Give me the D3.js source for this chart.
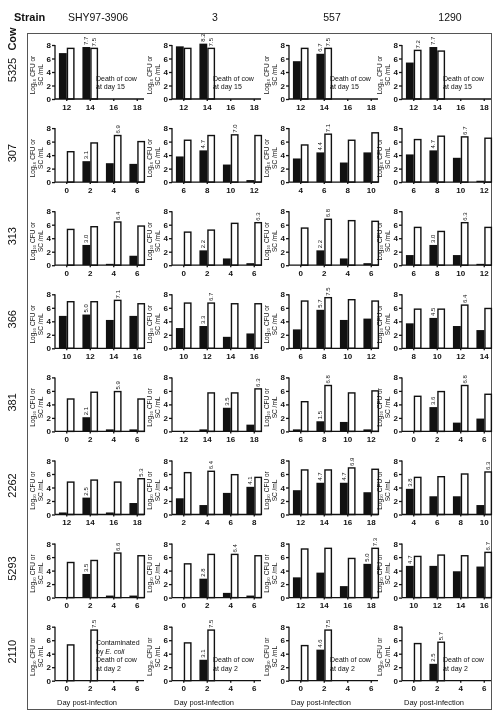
<!DOCTYPE html>
<html>
<head>
<meta charset="utf-8">
<script src="https://cdn.jsdelivr.net/npm/d3@7"></script>
<style>
  body { margin: 0; background: #fff; }
  svg { will-change: transform; }
  text { font-family: "Liberation Sans", Arial, sans-serif; fill: #111; }
  .tick text { font-weight: bold; font-size: 8px; }
  .tick line, .axis-line { stroke: #111; stroke-width: 1.3; }
</style>
</head>
<body>
<script>
// cows (rows) and strains (columns)
const cows = ['5325', '307', '313', '366', '381', '2262', '5293', '2110'];
const strains = ['SHY97-3906', '3', '557', '1290'];

// sampling days per panel [row][col]
const days = [
  [[12, 14, 16, 18], [12, 14, 16, 18], [12, 14, 16, 18], [12, 14, 16, 18]],
  [[0, 2, 4, 6], [6, 8, 10, 12], [4, 6, 8, 10], [6, 8, 10, 12]],
  [[0, 2, 4, 6], [0, 2, 4, 6], [0, 2, 4, 6], [6, 8, 10, 12]],
  [[10, 12, 14, 16], [10, 12, 14, 16], [6, 8, 10, 12], [8, 10, 12, 14]],
  [[0, 2, 4, 6], [12, 14, 16, 18], [6, 8, 10, 12], [0, 2, 4, 6]],
  [[12, 14, 16, 18], [2, 4, 6, 8], [12, 14, 16, 18], [4, 6, 8, 10]],
  [[0, 2, 4, 6], [0, 2, 4, 6], [12, 14, 16, 18], [10, 12, 14, 16]],
  [[0, 2, 4, 6], [0, 2, 4, 6], [0, 2, 4, 6], [0, 2, 4, 6]]
];

// log10 CFU/mL (black bars)
const cfu = [
  [[6.8, 7.7, null, null], [7.8, 8.2, null, null], [5.6, 6.7, null, null], [5.4, 7.7, null, null]],
  [[0, 3.1, 2.8, 2.7], [3.8, 4.7, 2.6, 0.3], [3.5, 4.4, 2.9, 4.4], [4.1, 4.7, 3.6, 0.2]],
  [[0, 3.0, 0.2, 1.4], [0, 2.2, 1.0, 0.3], [0, 2.2, 1.0, 0.3], [1.5, 3.0, 1.5, 0.2]],
  [[4.8, 5.0, 4.2, 4.8], [3.0, 3.3, 1.7, 2.2], [2.8, 5.7, 4.2, 4.4], [3.7, 4.5, 3.3, 2.7]],
  [[0, 2.1, 0.3, 0.3], [0, 0.3, 3.5, 1.0], [0.3, 1.5, 1.4, 0.3], [0, 3.6, 1.3, 1.9]],
  [[0.3, 2.5, 0.3, 1.7], [2.4, 1.4, 3.2, 4.1], [3.6, 4.7, 4.7, 3.3], [3.8, 2.7, 2.7, 1.4]],
  [[0, 3.5, 0.3, 0.3], [0, 2.8, 0.7, 0.3], [3.0, 3.7, 1.7, 5.0], [4.7, 4.7, 3.9, 4.6]],
  [[0, 0, null, null], [0, 3.1, null, null], [0, 4.6, null, null], [0, 2.5, null, null]]
];

// log10 SC/mL (white bars)
const scc = [
  [[7.5, 7.5, null, null], [7.5, 7.5, null, null], [7.5, 7.5, null, null], [7.2, 7.1, null, null]],
  [[4.5, 5.8, 6.9, 6.0], [6.2, 6.9, 7.0, 6.9], [5.5, 7.1, 6.2, 7.3], [6.3, 6.8, 6.7, 6.5]],
  [[5.3, 5.7, 6.4, 5.8], [4.9, 5.2, 6.2, 6.3], [5.5, 6.8, 6.6, 6.5], [5.6, 5.0, 6.3, 5.6]],
  [[6.9, 6.9, 7.1, 6.6], [6.7, 6.7, 6.6, 6.6], [7.0, 7.5, 7.2, 7.0], [5.8, 5.8, 6.4, 5.9]],
  [[4.8, 5.8, 5.9, 4.8], [0, 5.7, 5.7, 6.3], [4.4, 6.8, 5.7, 6.0], [5.2, 5.9, 6.8, 5.5]],
  [[4.8, 5.1, 4.8, 5.3], [6.2, 6.4, 5.9, 5.5], [6.6, 6.6, 6.9, 6.7], [5.5, 5.6, 6.0, 6.3]],
  [[5.2, 5.5, 6.6, 6.2], [5.0, 6.4, 6.4, 6.2], [7.2, 7.3, 5.8, 7.3], [6.1, 6.3, 6.2, 6.7]],
  [[5.3, 7.5, null, null], [5.6, 7.5, null, null], [5.2, 7.5, null, null], [5.5, 5.7, null, null]]
];

// which bars carry a value label (index into the day list)
const cfuLabels = [
  [[1], [1], [1], [1]],
  [[1], [1], [1], [1]],
  [[1], [1], [1], [1]],
  [[1], [1], [1], [1]],
  [[1], [2], [1], [1]],
  [[1], [3], [1, 2], [0]],
  [[1], [1], [3], [0]],
  [[], [1], [1], [1]]
];
const sccLabels = [
  [[1], [1], [1], [0]],
  [[2], [2], [1], [2]],
  [[2], [3], [1], [2]],
  [[2], [1], [1], [2]],
  [[2], [3], [1], [2]],
  [[3], [1], [2], [3]],
  [[2], [2], [3], [3]],
  [[1], [1], [1], [1]]
];

const yTicks = [0, 2, 4, 6, 8];

const notes = [
  { row: 0, col: 0, lines: ['Death of cow', 'at day 15'] },
  { row: 0, col: 1, lines: ['Death of cow', 'at day 15'] },
  { row: 0, col: 2, lines: ['Death of cow', 'at day 15'] },
  { row: 0, col: 3, lines: ['Death of cow', 'at day 15'] },
  { row: 7, col: 0, lines: ['Contaminated', 'by E. coli', 'Death of cow', 'at day 2'] },
  { row: 7, col: 1, lines: ['Death of cow', 'at day 2'] },
  { row: 7, col: 2, lines: ['Death of cow', 'at day 2'] },
  { row: 7, col: 3, lines: ['Death of cow', 'at day 2'] }
];

const W = 497, H = 717;
const plotH = 54, plotW = 94;
const rowBase = i => 99 + i * 83.1;
const colLeft = [55, 172, 289, 402];
const colX = j => colLeft[j];

const svg = d3.select('body').append('svg')
  .attr('width', W)
  .attr('height', H);

// frame
svg.append('rect')
  .attr('x', 27.5).attr('y', 33.5)
  .attr('width', 464).attr('height', 676)
  .attr('fill', 'none')
  .attr('stroke', '#555')
  .attr('stroke-width', 1);

// header
svg.append('text')
  .attr('x', 14).attr('y', 21)
  .style('font-weight', 'bold').style('font-size', '11px')
  .text('Strain');
svg.append('text')
  .attr('transform', 'translate(16,39) rotate(-90)')
  .attr('text-anchor', 'middle')
  .style('font-weight', 'bold').style('font-size', '11px')
  .text('Cow');
strains.forEach((s, j) => {
  svg.append('text')
    .attr('x', colX(j) + 43 + (j === 3 ? 5 : 0)).attr('y', 21)
    .attr('text-anchor', 'middle')
    .style('font-size', '10.5px')
    .text(s);
});

const y = d3.scaleLinear().domain([0, 8]).range([plotH, 0]);
const fmt = d3.format('.1f');

cows.forEach((cow, i) => {
  const base = rowBase(i);
  const top = base - plotH;

  svg.append('text')
    .attr('transform', `translate(16,${base - 29}) rotate(-90)`)
    .attr('text-anchor', 'middle')
    .style('font-size', '11px')
    .text(cow);

  strains.forEach((strain, j) => {
    const g = svg.append('g')
      .attr('transform', `translate(${colX(j)},${top})`);

    // y title
    const yt = g.append('text')
      .attr('transform', `translate(-20,${plotH / 2 + 3}) rotate(-90)`)
      .attr('text-anchor', 'middle')
      .style('font-size', '6.5px');
    yt.append('tspan').attr('x', 0).attr('dy', 0).text('Log\u2081\u2080 CFU or');
    yt.append('tspan').attr('x', 0).attr('dy', 7.5).text('SC /mL');

    const dl = days[i][j];
    const x0 = d3.scaleBand().domain(dl).range([0, plotW])
      .paddingInner(1 / 3).paddingOuter(1 / 6);
    const x1 = d3.scaleBand().domain(['cfu', 'scc']).range([0, x0.bandwidth()]);

    const rows = dl.map((d, k) => ({
      day: d,
      cfu: cfu[i][j][k],
      scc: scc[i][j][k],
      cfuLab: cfuLabels[i][j].includes(k),
      sccLab: sccLabels[i][j].includes(k)
    }));

    // white bars (SC)
    g.selectAll('rect.scc')
      .data(rows.filter(r => r.scc))
      .enter().append('rect')
      .attr('class', 'scc')
      .attr('x', r => x0(r.day) + x1('scc') + 0.7)
      .attr('y', r => y(r.scc))
      .attr('width', x1.bandwidth() - 1.4)
      .attr('height', r => plotH - y(r.scc))
      .attr('fill', '#fff')
      .attr('stroke', '#111')
      .attr('stroke-width', 1.4);

    // black bars (CFU)
    g.selectAll('rect.cfu')
      .data(rows.filter(r => r.cfu))
      .enter().append('rect')
      .attr('class', 'cfu')
      .attr('x', r => x0(r.day) + x1('cfu'))
      .attr('y', r => y(r.cfu))
      .attr('width', x1.bandwidth())
      .attr('height', r => plotH - y(r.cfu))
      .attr('fill', '#111');

    // value labels
    const labs = [];
    rows.forEach(r => {
      if (r.cfuLab && r.cfu) labs.push({ x: x0(r.day) + x1('cfu') + x1.bandwidth() / 2, v: r.cfu });
      if (r.sccLab && r.scc) labs.push({ x: x0(r.day) + x1('scc') + x1.bandwidth() / 2, v: r.scc });
    });
    g.selectAll('text.val')
      .data(labs)
      .enter().append('text')
      .attr('class', 'val')
      .attr('transform', d => `translate(${d.x + 2.1},${y(d.v) - 2}) rotate(-90)`)
      .style('font-size', '6px')
      .text(d => fmt(d.v));

    // axes
    const yAxis = g.append('g')
      .call(d3.axisLeft(y).tickValues(yTicks).tickSize(3).tickPadding(1));
    yAxis.select('.domain').remove();
    g.append('line').attr('class', 'axis-line')
      .attr('x1', 0).attr('x2', 0).attr('y1', 0).attr('y2', plotH);

    const xAxis = g.append('g')
      .attr('transform', `translate(0,${plotH})`)
      .call(d3.axisBottom(x0).tickSize(2).tickPadding(3));
    xAxis.select('.domain').remove();
    g.append('line').attr('class', 'axis-line')
      .attr('x1', 0).attr('x2', 89).attr('y1', plotH).attr('y2', plotH);

    if (i === cows.length - 1) {
      g.append('text')
        .attr('x', 32).attr('y', plotH + 24)
        .attr('text-anchor', 'middle')
        .style('font-size', '7.5px')
        .text('Day post-infection');
    }
  });
});

// notes about dead / contaminated cows
notes.forEach(n => {
  const base = rowBase(n.row);
  const nx = colX(n.col) + 41;
  const t = svg.append('text')
    .style('font-size', '7px');
  n.lines.forEach((ln, k) => {
    const yy = base - 10 - (n.lines.length - 1 - k) * 8.5;
    if (ln.includes('E. coli')) {
      t.append('tspan').attr('x', nx).attr('y', yy).text('by ');
      t.append('tspan').style('font-style', 'italic').text('E. coli');
    } else {
      t.append('tspan').attr('x', nx).attr('y', yy).text(ln);
    }
  });
});
</script>
</body>
</html>
